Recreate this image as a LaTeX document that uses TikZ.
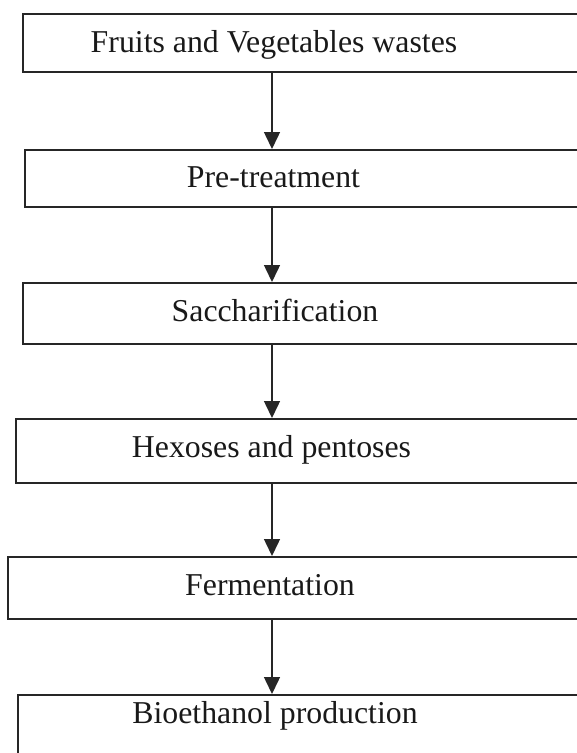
\documentclass[tikz,border=0pt]{standalone}
\usepackage{fontspec}
\setmainfont{Liberation Serif}
\usetikzlibrary{arrows.meta}
\tikzset{
  stepbox/.style={draw=black!85,line width=1.9pt,rectangle,anchor=north west,inner sep=0pt},
  lbl/.style={anchor=base,inner sep=0pt,text=black!90,font=\fontsize{31.8}{36}\selectfont},
  ar/.style={-{Triangle[length=17pt,width=16pt]},line width=1.5pt,draw=black!85},
}
\begin{document}
\begin{tikzpicture}[x=1pt,y=-1pt]
\path[use as bounding box,clip] (0,0) rectangle (577,753);
\fill[white] (0,0) rectangle (577,753);
\coordinate (ax) at (272,0);
% process steps
\node[stepbox,minimum width=563pt,minimum height=58pt] (fv) at (22,13) {};
\node[lbl] (fvt) at (274,52) {Fruits and Vegetables wastes};
\node[stepbox,minimum width=561pt,minimum height=57pt] (pt) at (24,149) {};
\node[lbl] (ptt) at (273.5,187) {Pre-treatment};
\node[stepbox,minimum width=563pt,minimum height=61pt] (sc) at (22,282) {};
\node[lbl] (sct) at (275,321) {Saccharification};
\node[stepbox,minimum width=570pt,minimum height=64pt] (hp) at (15,418) {};
\node[lbl] (hpt) at (271.5,457) {Hexoses and pentoses};
\node[stepbox,minimum width=578pt,minimum height=62pt] (fm) at (7,556) {};
\node[lbl] (fmt) at (270,595) {Fermentation};
\node[stepbox,minimum width=568pt,minimum height=75pt] (be) at (17,694) {};
\node[lbl] (bet) at (275,723) {Bioethanol production};
% arrows
\draw[ar] (fv.south -| ax) -- (pt.north -| ax);
\draw[ar] (pt.south -| ax) -- (sc.north -| ax);
\draw[ar] (sc.south -| ax) -- (hp.north -| ax);
\draw[ar] (hp.south -| ax) -- (fm.north -| ax);
\draw[ar] (fm.south -| ax) -- (be.north -| ax);
\end{tikzpicture}
\end{document}
